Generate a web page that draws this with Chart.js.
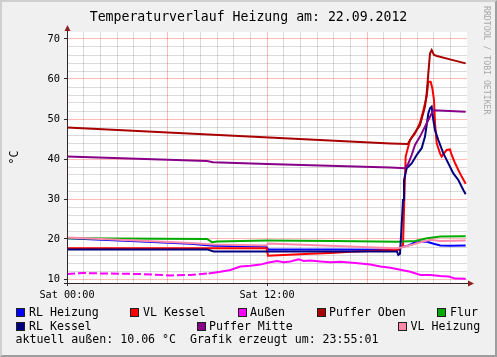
<!DOCTYPE html>
<html><head><meta charset="utf-8">
<script src="https://cdn.jsdelivr.net/npm/chart.js@4"></script>
<style>
html,body{margin:0;padding:0;background:#f0f0f0;}
#wrap{position:relative;width:497px;height:357px;overflow:hidden;font-family:'DejaVu Sans Mono',monospace;background:#f0f0f0;}
#c{position:absolute;left:0;top:0;}
.frame{position:absolute;left:0;top:0;width:497px;height:357px;box-sizing:border-box;border-top:2px solid #cfcfcf;border-left:2px solid #cfcfcf;border-right:2px solid #9e9e9e;border-bottom:2px solid #9e9e9e;pointer-events:none;}
.ttl{position:absolute;left:0;top:9px;width:497px;text-align:center;font-size:13.2px;line-height:16px;white-space:pre;color:#000;}
.lg{position:absolute;font-size:11.6px;line-height:14px;white-space:pre;color:#000;}
.bx{position:absolute;width:9px;height:9px;box-sizing:border-box;border:1px solid #202020;}
.wm{position:absolute;left:482px;top:6px;writing-mode:vertical-rl;font-size:8.2px;line-height:10px;color:#a8a8a8;white-space:pre;}
</style></head>
<body>
<div id="wrap">
<canvas id="c" width="497" height="357"></canvas>
<div class="ttl" id="title"></div>
<div id="legend"></div>
<div class="wm">RRDTOOL / TOBI OETIKER</div>
<div class="frame"></div>
</div>
<script>
// ---- data (hours since Sat 00:00, temperatures in °C) ----
const chartTitle = 'Temperaturverlauf Heizung am: 22.09.2012';
const unitLabel = '°C';
const footerText = 'aktuell außen: 10.06 °C  Grafik erzeugt um: 23:55:01';

const seriesNames  = ['RL Heizung','VL Kessel','Außen','Puffer Oben','Flur','RL Kessel','Puffer Mitte','VL Heizung'];
const seriesColors = ['#0000FF','#FF0000','#FF00FF','#A80000','#00AA00','#000080','#880088','#FF88AA'];

const rlHeizungHours = [0, 3.8, 7.4, 8.8, 11.95, 12.06, 16.0, 19.86, 20.0, 20.5, 20.8, 21.2, 21.6, 22.0, 22.4, 23.0, 23.92];
const rlHeizungTemps = [20.2, 19.5, 18.8, 18.3, 18.1, 17.4, 17.4, 17.3, 17.9, 18.4, 19.0, 19.3, 19.3, 18.8, 18.4, 18.3, 18.4];

const vlKesselHours = [0, 11.98, 12.06, 13.0, 14.6, 15.8, 17.0, 19.9, 20.16, 20.24, 20.32, 20.58, 20.88, 21.18, 21.36, 21.58, 21.68, 21.82, 21.92, 22.02, 22.08, 22.18, 22.38, 22.48, 22.78, 22.98, 23.08, 23.28, 23.48, 23.68, 23.92];
const vlKesselTemps = [17.7, 17.7, 15.8, 16.0, 16.3, 16.5, 16.8, 17.3, 18.5, 30.0, 40.6, 44.75, 46.4, 49.0, 51.8, 55.6, 59.3, 59.3, 57.7, 54.75, 49.0, 44.0, 41.4, 40.6, 42.25, 42.4, 41.0, 39.0, 37.25, 35.6, 33.8];

const aussenHours = [0, 1.0, 2.0, 4.4, 6.2, 7.4, 8.5, 9.2, 9.8, 10.4, 11.0, 11.6, 12.1, 12.6, 13.0, 13.4, 13.9, 14.2, 14.6, 15.2, 15.8, 16.4, 17.3, 18.2, 18.8, 19.4, 20.0, 20.6, 21.2, 21.8, 22.4, 22.9, 23.3, 23.92];
const aussenTemps = [11.25, 11.5, 11.4, 11.25, 10.9, 11.0, 11.4, 11.8, 12.25, 13.1, 13.3, 13.6, 14.1, 14.5, 14.2, 14.4, 14.9, 14.5, 14.6, 14.4, 14.2, 14.3, 14.0, 13.6, 13.1, 12.8, 12.3, 11.8, 11.0, 11.0, 10.75, 10.6, 10.1, 10.06];

const pufferObenHours = [0, 19.4, 20.44, 20.78, 21.18, 21.48, 21.58, 21.68, 21.78, 21.88, 22.02, 22.2, 22.98, 23.92];
const pufferObenTemps = [47.9, 43.9, 43.75, 46.0, 48.5, 53.1, 56.4, 61.4, 66.4, 67.25, 66.0, 65.75, 64.9, 63.9];

const flurHours = [0, 8.4, 8.7, 9.0, 12.0, 16.0, 19.8, 20.9, 21.6, 22.4, 23.92];
const flurTemps = [20.2, 20.0, 19.2, 19.4, 19.6, 19.5, 19.3, 19.5, 20.2, 20.6, 20.7];

const rlKesselHours = [0, 8.4, 8.8, 12.0, 19.8, 19.88, 19.98, 20.06, 20.16, 20.22, 20.38, 20.68, 20.98, 21.28, 21.48, 21.58, 21.68, 21.78, 21.88, 21.98, 22.08, 22.28, 22.58, 22.88, 23.18, 23.48, 23.78, 23.92];
const rlKesselTemps = [17.4, 17.4, 16.9, 16.9, 16.9, 16.0, 16.3, 22.0, 29.75, 34.75, 37.7, 38.9, 41.0, 42.7, 45.6, 48.5, 51.4, 52.7, 53.1, 49.75, 47.25, 44.75, 41.4, 38.9, 36.4, 34.75, 32.25, 31.2];

const pufferMitteHours = [0, 8.4, 8.76, 12.0, 19.4, 20.28, 20.48, 20.68, 20.88, 21.18, 21.48, 21.68, 21.98, 23.92];
const pufferMitteTemps = [40.6, 39.5, 39.2, 38.75, 37.9, 37.7, 38.9, 41.0, 43.5, 45.6, 48.1, 49.75, 52.2, 51.8];

const vlHeizungHours = [0, 3.8, 7.4, 8.8, 11.98, 12.06, 15.8, 19.7, 20.0, 20.8, 21.2, 21.8, 22.4, 23.92];
const vlHeizungTemps = [20.4, 19.7, 19.0, 18.6, 18.4, 18.9, 18.3, 17.7, 17.8, 18.7, 19.2, 19.8, 19.5, 19.6];

const yTickLabels = [10, 20, 30, 40, 50, 60, 70];
const xTickHours  = [0, 12];
const xTickLabels = ['Sat 00:00', 'Sat 12:00'];
const aussenGapUntil = 8.5; // data with short drop-outs before this hour

// ---- build ----
const seriesHours = [rlHeizungHours, vlKesselHours, aussenHours, pufferObenHours, flurHours, rlKesselHours, pufferMitteHours, vlHeizungHours];
const seriesTemps = [rlHeizungTemps, vlKesselTemps, aussenTemps, pufferObenTemps, flurTemps, rlKesselTemps, pufferMitteTemps, vlHeizungTemps];

const datasets = seriesNames.map((name, i) => {
  const ds = {
    label: name,
    data: seriesHours[i].map((h, k) => ({x: h, y: seriesTemps[i][k]})),
    borderColor: seriesColors[i],
    backgroundColor: seriesColors[i],
    borderWidth: 2,
    pointRadius: 0,
    tension: 0,
    fill: false,
    order: seriesNames.length - 1 - i
  };
  if (i === 2) ds.segment = { borderDash: ctx => ctx.p0.parsed.x < aussenGapUntil ? [8, 3] : undefined };
  return ds;
});

const MONO = "'DejaVu Sans Mono', monospace";
const majorColor = 'rgba(255,0,0,0.27)';
const minorColor = 'rgba(0,0,0,0.14)';
const yGrid = []; for (let v = 10; v <= 70; v += 2) yGrid.push(v);
const xGrid = []; for (let h = 0; h <= 24; h += 1) xGrid.push(h);

const deco = {
  id: 'deco',
  beforeDraw(chart) {
    const a = chart.chartArea, c = chart.ctx;
    c.save(); c.fillStyle = '#ffffff';
    c.fillRect(a.left, a.top, a.right - a.left, a.bottom - a.top);
    c.restore();
  },
  afterDraw(chart) {
    const a = chart.chartArea, c = chart.ctx;
    c.save();
    c.strokeStyle = '#302828'; c.lineWidth = 1;
    c.beginPath();
    c.moveTo(a.left + 0.5, a.bottom + 3); c.lineTo(a.left + 0.5, a.top - 3);
    c.moveTo(a.left - 3, a.bottom + 0.5); c.lineTo(a.right + 3, a.bottom + 0.5);
    c.stroke();
    c.fillStyle = '#902020';
    c.beginPath();
    c.moveTo(a.left + 0.5, a.top - 7); c.lineTo(a.left - 2.5, a.top - 1); c.lineTo(a.left + 3.5, a.top - 1); c.closePath(); c.fill();
    c.beginPath();
    c.moveTo(a.right + 7, a.bottom + 0.5); c.lineTo(a.right + 1, a.bottom - 2.5); c.lineTo(a.right + 1, a.bottom + 3.5); c.closePath(); c.fill();
    c.restore();
  }
};

new Chart(document.getElementById('c'), {
  type: 'line',
  data: { datasets },
  options: {
    responsive: false, animation: false, devicePixelRatio: 1,
    layout: { padding: { left: 0, right: 30, top: 32, bottom: 0 } },
    plugins: {
      legend: { display: false }, tooltip: { enabled: false }, title: { display: false }
    },
    scales: {
      x: {
        type: 'linear', min: 0, max: 24,
        afterBuildTicks: s => { s.ticks = xGrid.map(v => ({ value: v })); },
        afterFit: s => { s.height = 74; },
        border: { display: false },
        grid: {
          color: ctx => { const v = ctx.tick ? ctx.tick.value : 0; return v === 24 ? 'rgba(0,0,0,0)' : (v % 6 === 0 ? majorColor : minorColor); },
          lineWidth: 1, drawTicks: true, tickLength: 3,
          tickColor: ctx => (ctx.tick && xTickHours.includes(ctx.tick.value)) ? '#302828' : 'rgba(0,0,0,0)'
        },
        ticks: {
          autoSkip: false, maxRotation: 0, minRotation: 0, padding: 3, color: '#000',
          font: { family: MONO, size: 10.2 },
          callback: v => { const k = xTickHours.indexOf(v); return k >= 0 ? xTickLabels[k] : ''; }
        }
      },
      y: {
        type: 'linear', min: 9, max: 71.75,
        afterBuildTicks: s => { s.ticks = yGrid.map(v => ({ value: v })); },
        afterFit: s => { s.width = 67; },
        border: { display: false },
        grid: {
          color: ctx => (ctx.tick && ctx.tick.value % 10 === 0) ? majorColor : minorColor,
          lineWidth: 1, drawTicks: true, tickLength: 3,
          tickColor: ctx => (ctx.tick && yTickLabels.includes(ctx.tick.value)) ? '#302828' : 'rgba(0,0,0,0)'
        },
        ticks: {
          autoSkip: false, padding: 4, color: '#000',
          font: { family: MONO, size: 10.4 },
          callback: v => yTickLabels.includes(v) ? String(v) : ''
        },
        title: { display: true, text: unitLabel, color: '#000',
                 font: { family: MONO, size: 11.6, lineHeight: 1.2 }, padding: { top: 8, bottom: 0 } }
      }
    }
  },
  plugins: [deco]
});

document.getElementById('title').textContent = chartTitle;

// ---- legend (HTML) ----
const legendSlots = [ // [boxLeft, textLeft, rowTop] per series in seriesNames order
  [16, 29, 304.7], [130, 143, 304.7], [237.5, 250, 304.7], [316.5, 329, 304.7], [437, 450, 304.7],
  [16, 29, 318.5], [196.5, 209, 318.5], [397.5, 410.5, 318.5]
];
const lg = document.getElementById('legend');
seriesNames.forEach((name, i) => {
  const [bx, tx, top] = legendSlots[i];
  const b = document.createElement('div'); b.className = 'bx';
  b.style.left = bx + 'px'; b.style.top = (top + 3) + 'px'; b.style.background = seriesColors[i];
  lg.appendChild(b);
  const t = document.createElement('div'); t.className = 'lg';
  t.style.left = tx + 'px'; t.style.top = top + 'px'; t.textContent = name;
  lg.appendChild(t);
});
const f = document.createElement('div'); f.className = 'lg';
f.style.left = '15.5px'; f.style.top = '332.3px'; f.textContent = footerText;
lg.appendChild(f);
</script>
</body></html>
